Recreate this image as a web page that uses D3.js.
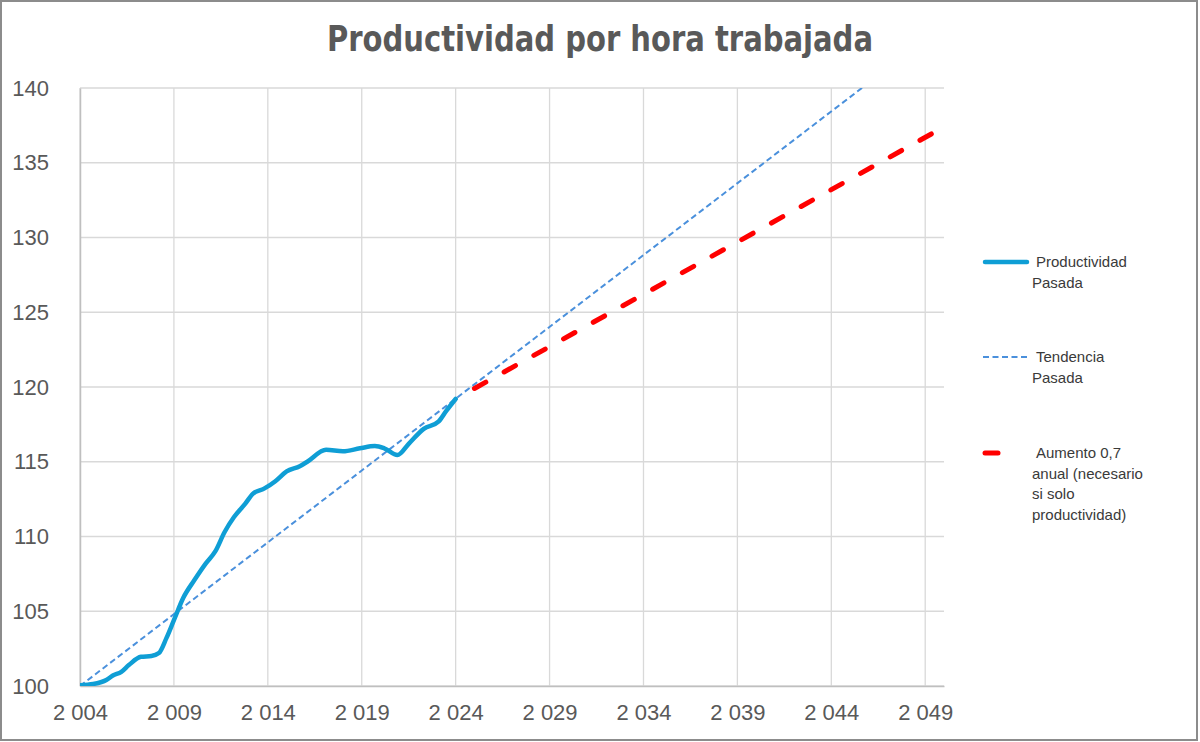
<!DOCTYPE html>
<html>
<head>
<meta charset="utf-8">
<script src="https://cdn.jsdelivr.net/npm/d3@7"></script>
<style>
  html, body { margin: 0; padding: 0; background: #fff; }
  svg { display: block; }
</style>
</head>
<body>
<div id="chart-area"><svg></svg></div>
<script>
const chartSize = { width: 1200, height: 742 };
const margin = { left: 80, right: 256, top: 88, bottom: 56 };
const width = chartSize.width - margin.left - margin.right;
const height = chartSize.height - margin.top - margin.bottom;

// productividad pasada (índice 2004 = 100)
const pastYears = [2004.0, 2004.7, 2005.4, 2005.75, 2006.2, 2006.6, 2007.25, 2007.8, 2008.2, 2008.6,
  2009.0, 2009.5, 2010.1, 2010.7, 2011.2, 2011.7, 2012.2, 2012.8, 2013.2, 2013.8,
  2014.4, 2015.0, 2015.7, 2016.1, 2017.1, 2018.0, 2018.9, 2019.7, 2020.2, 2020.9,
  2021.5, 2022.3, 2023.1, 2023.5, 2024.0];
const pastValues = [100.05, 100.13, 100.4, 100.7, 100.95, 101.4, 101.95, 102.0, 102.2, 103.2,
  104.4, 105.9, 107.1, 108.2, 109.0, 110.3, 111.3, 112.2, 112.85, 113.2,
  113.7, 114.35, 114.7, 115.0, 115.8, 115.7, 115.9, 116.05, 115.9, 115.45,
  116.2, 117.2, 117.7, 118.4, 119.2];

// tendencia pasada
const trendYears = [2004, 2050];
const trendValues = [100, 144.2];

// aumento 0,7 anual
const riseYears = [2025, 2050];
const riseValues = [119.9, 137.4];

const xTicks = [2004, 2009, 2014, 2019, 2024, 2029, 2034, 2039, 2044, 2049];
const yTicks = [100, 105, 110, 115, 120, 125, 130, 135, 140];

const legendItems = [
  { lines: ["Productividad", "Pasada"], key: "past" },
  { lines: ["Tendencia", "Pasada"], key: "trend" },
  { lines: ["Aumento 0,7", "anual (necesario", "si solo", "productividad)"], key: "rise" }
];

const styles = {
  past: { stroke: "#0f9ed5", width: 4.5, dash: null, cap: "round" },
  trend: { stroke: "#4a90dc", width: 2, dash: "6,3.5", cap: "butt" },
  rise: { stroke: "#ff0000", width: 5, dash: "13,21", cap: "round" }
};

const textColor = "#595959";
const tickFormat = d => d3.format(",")(d).replace(",", " ");

const svg = d3.select("#chart-area svg")
  .attr("width", chartSize.width)
  .attr("height", chartSize.height);

svg.append("rect")
  .attr("x", 1).attr("y", 1)
  .attr("width", 1196).attr("height", 739)
  .attr("fill", "#fff")
  .attr("stroke", "#8c8c8c")
  .attr("stroke-width", 2);

svg.append("text")
  .attr("x", 327)
  .attr("y", 51)
  .attr("textLength", 546)
  .attr("lengthAdjust", "spacingAndGlyphs")
  .attr("fill", textColor)
  .style("font-family", "'Liberation Sans Narrow', 'DejaVu Sans Condensed', 'Liberation Sans', sans-serif")
  .style("font-weight", "bold")
  .style("font-size", "36px")
  .text("Productividad por hora trabajada");

const g = svg.append("g")
  .attr("transform", `translate(${margin.left},${margin.top})`);

const x = d3.scaleLinear().domain([2004, 2050]).range([0, width]);
const y = d3.scaleLinear().domain([100, 140]).range([height, 0]);

// rejilla
g.append("g")
  .selectAll("line")
  .data(xTicks)
  .join("line")
  .attr("x1", d => x(d)).attr("x2", d => x(d))
  .attr("y1", 0).attr("y2", height)
  .attr("stroke", "#d9d9d9")
  .attr("stroke-width", 1.3);

g.append("g")
  .selectAll("line")
  .data(yTicks)
  .join("line")
  .attr("x1", 0).attr("x2", width)
  .attr("y1", d => y(d)).attr("y2", d => y(d))
  .attr("stroke", "#d9d9d9")
  .attr("stroke-width", 1.3);

// ejes
const xAxis = d3.axisBottom(x).tickValues(xTicks).tickFormat(tickFormat).tickSize(0).tickPadding(18);
const yAxis = d3.axisLeft(y).tickValues(yTicks).tickSize(0).tickPadding(31);

g.append("g")
  .attr("class", "x-axis")
  .attr("transform", `translate(0,${height})`)
  .call(xAxis);

g.append("g")
  .attr("class", "y-axis")
  .call(yAxis);

g.selectAll(".x-axis path, .y-axis path")
  .attr("stroke", "#bfbfbf")
  .attr("stroke-width", 1.5);

g.selectAll(".x-axis text, .y-axis text")
  .attr("fill", textColor)
  .style("font-family", "'Liberation Sans', Arial, sans-serif")
  .style("font-size", "22px");

// series
g.append("clipPath").attr("id", "plot-clip")
  .append("rect").attr("width", width).attr("height", height);

const line = d3.line()
  .x(d => x(d[0]))
  .y(d => y(d[1]));

const series = [
  { key: "trend", data: d3.zip(trendYears, trendValues), curve: d3.curveLinear },
  { key: "rise", data: d3.zip(riseYears, riseValues), curve: d3.curveLinear },
  { key: "past", data: d3.zip(pastYears, pastValues), curve: d3.curveMonotoneX }
];

g.append("g")
  .attr("clip-path", "url(#plot-clip)")
  .selectAll("path")
  .data(series)
  .join("path")
  .attr("d", s => line.curve(s.curve)(s.data))
  .attr("fill", "none")
  .attr("stroke", s => styles[s.key].stroke)
  .attr("stroke-width", s => styles[s.key].width)
  .attr("stroke-dasharray", s => styles[s.key].dash)
  .attr("stroke-linecap", s => styles[s.key].cap)
  .attr("stroke-linejoin", "round");

// leyenda
const legendY = [262, 357, 453];
const legend = svg.append("g").attr("class", "legend");

legendItems.forEach((item, i) => {
  const st = styles[item.key];
  const ly = legendY[i];
  legend.append("line")
    .attr("x1", item.key === "trend" ? 983 : 985)
    .attr("x2", item.key === "trend" ? 1029 : 1027)
    .attr("y1", ly).attr("y2", ly)
    .attr("stroke", st.stroke)
    .attr("stroke-width", st.width)
    .attr("stroke-linecap", st.cap)
    .attr("stroke-dasharray", item.key === "rise" ? "13,29" : st.dash);

  item.lines.forEach((t, j) => {
    legend.append("text")
      .attr("x", j === 0 ? 1036 : 1032)
      .attr("y", ly + 5 + j * 20.5)
      .attr("fill", "#3a3a3a")
      .style("font-family", "'Liberation Sans', Arial, sans-serif")
      .style("font-size", "15px")
      .text(t);
  });
});
</script>
</body>
</html>
